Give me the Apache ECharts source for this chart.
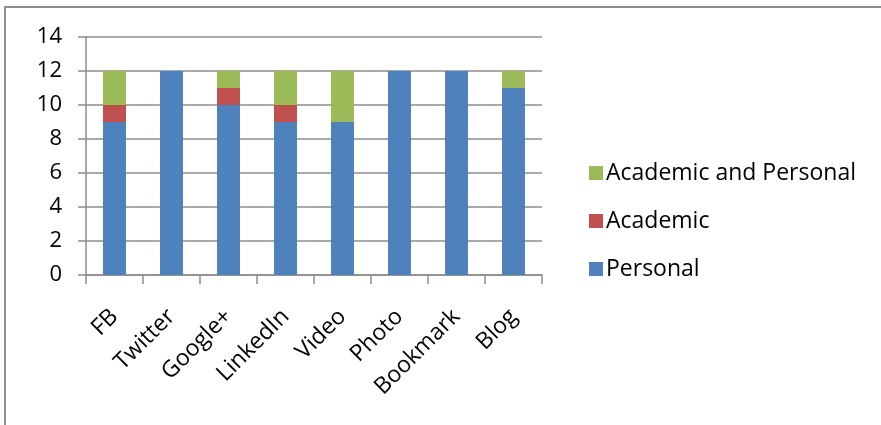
<!DOCTYPE html>
<html><head><meta charset="utf-8">
<script src="https://cdn.jsdelivr.net/npm/echarts@6/dist/echarts.min.js"></script>
<style>html,body{margin:0;padding:0;background:#fff}#c{width:881px;height:425px}</style>
</head><body><div id="c"></div>
<script>
const categories = ['FB','Twitter','Google+','LinkedIn','Video','Photo','Bookmark','Blog'];
const personal = [9,12,10,9,9,12,12,11];
const academic = [1,0,1,1,0,0,0,0];
const academicAndPersonal = [2,0,1,2,3,0,0,1];
const yTicks = {min:0,max:14,interval:2};

const chart = echarts.init(document.getElementById('c'));
const font = '"Open Sans", sans-serif';
const gridColor = '#8c8c8c';
chart.setOption({
  animation:false,
  textStyle:{fontFamily:font},
  graphic:[{type:'rect',shape:{x:5,y:7,width:900,height:440},style:{fill:'none',stroke:'#8e8e8e',lineWidth:2},z:-1}],
  grid:{left:86,right:339,top:37,bottom:150},
  legend:{
    orient:'vertical',left:584,top:156,itemWidth:14,itemHeight:14,itemGap:24,
    data:['Academic and Personal','Academic','Personal'],
    textStyle:{fontSize:23,color:'#000',fontFamily:font,lineHeight:24,padding:[0,0,0,-2]},
    icon:'rect'
  },
  xAxis:{
    type:'category',data:categories,
    axisLine:{lineStyle:{color:gridColor,width:1.5}},
    axisTick:{show:true,length:9,lineStyle:{color:gridColor,width:1.5}},
    axisLabel:{rotate:45,fontSize:23,color:'#000',margin:38,interval:0,fontFamily:font}
  },
  yAxis:{
    type:'value',min:yTicks.min,max:yTicks.max,interval:yTicks.interval,
    axisLine:{show:true,lineStyle:{color:gridColor,width:1.5}},
    axisTick:{show:true,length:8,lineStyle:{color:gridColor,width:1.5}},
    splitLine:{lineStyle:{color:gridColor,width:1.5}},
    axisLabel:{fontSize:22,color:'#000',margin:24,fontFamily:font}
  },
  series:[
    {name:'Personal',type:'bar',stack:'s',data:personal,barWidth:23,itemStyle:{color:'#4F81BD'}},
    {name:'Academic',type:'bar',stack:'s',data:academic,barWidth:23,itemStyle:{color:'#C0504D'}},
    {name:'Academic and Personal',type:'bar',stack:'s',data:academicAndPersonal,barWidth:23,itemStyle:{color:'#9BBB59'}}
  ]
});
</script></body></html>
